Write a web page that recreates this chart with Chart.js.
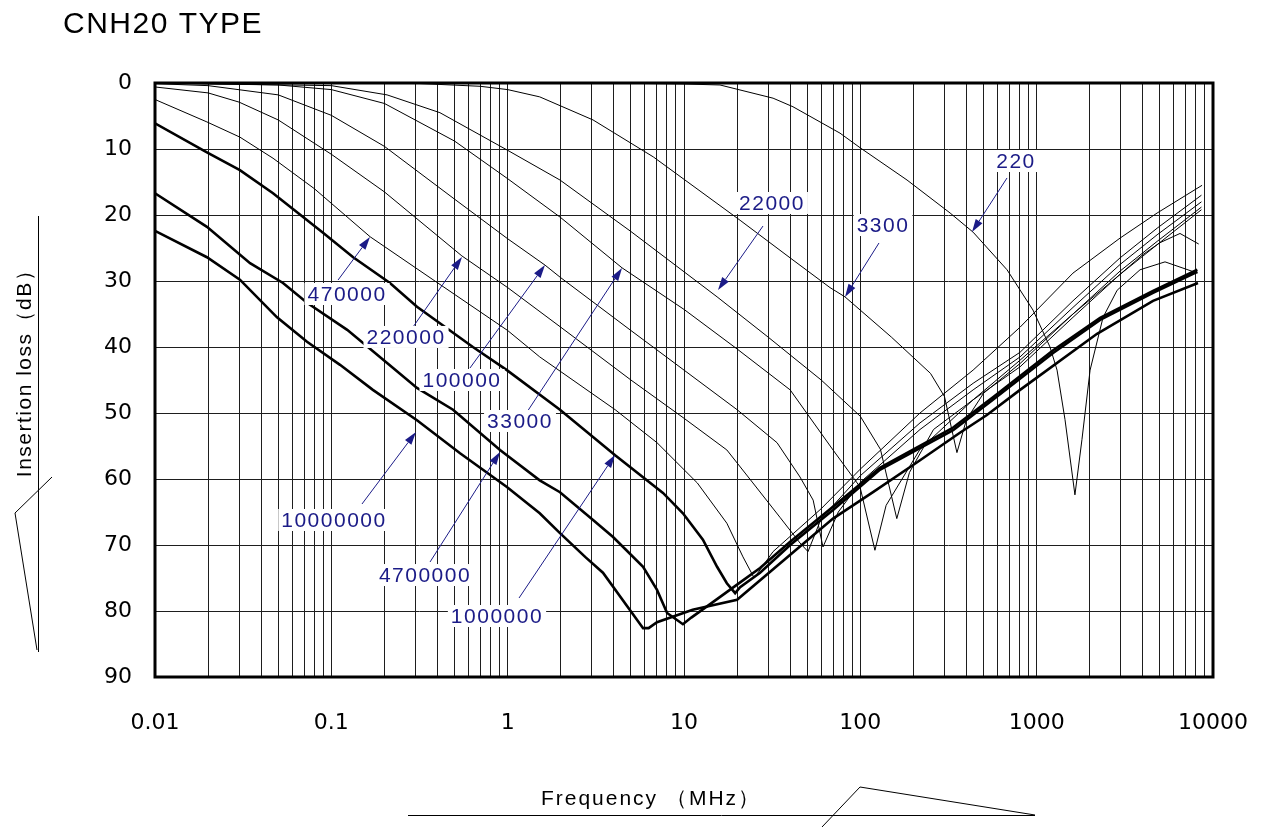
<!DOCTYPE html>
<html>
<head>
<meta charset="utf-8">
<title>CNH20 TYPE</title>
<script src="https://cdn.jsdelivr.net/npm/chart.js@4.4.1/dist/chart.umd.min.js"></script>
<style>
  html, body { margin: 0; padding: 0; background: #fff; }
  #wrap { width: 1263px; height: 827px; }
</style>
</head>
<body>
<div id="wrap"><canvas id="ilChart" width="1263" height="827"></canvas></div>
<script>
// =======================
// DATA  (frequency MHz, insertion loss dB)
// =======================
const xTickLabels = ['0.01', '0.1', '1', '10', '100', '1000', '10000'];
const yTickValues = [0, 10, 20, 30, 40, 50, 60, 70, 80, 90];

const c220 = [[0.01,0],[5,0.05],[10,0.15],[16,0.3],[32,2.3],[41.5,3.6],[76.7,7.6],[99.6,9.8],[184,14.7],[323,19.7],[436,22.6],[679,28.3],[953,34.4],[1190,40],[1305,43.5],[1448,51],[1648,62.4],[1807,54],[2009,43.5],[2380,35.5],[2860,31.4],[3857,28.3],[5345,27.1],[8150,28.8]];
const c3300 = [[0.01,0],[0.3,0.05],[0.7,0.5],[1,1],[1.52,2.1],[3.05,5.6],[6.7,11.2],[20.8,20.8],[40,26.5],[67.3,31],[81.8,32.4],[150,38.5],[250,44],[300,47.5],[353,56],[400,51],[500,47],[805,42.5],[1607,35],[2970,29],[4000,26],[5000,24.2],[6500,22.8],[8300,24.4]];
const c22000 = [[0.01,0],[0.1,0.4],[0.207,1.8],[0.413,4.5],[1,10.2],[1.98,14.7],[5,22.5],[10,28.6],[15.4,32.4],[30,38.5],[60,45],[100,50.5],[130,55.5],[161,66],[190,59],[260,52.5],[436,48],[805,43],[1607,35.5],[2970,29],[4820,24.5],[8600,19.2]];
const c33000 = [[0.01,0],[0.05,0.3],[0.1,1],[0.2,3.1],[0.5,8.8],[1,14.5],[2,20.4],[4.45,28],[10,34.3],[20,40.3],[40,46.5],[70,55.6],[99.6,61.2],[121,70.8],[140,64],[218,55.5],[436,48],[805,42],[1607,35],[2970,28.5],[4820,24],[8600,18.8]];
const c100000 = [[0.01,0.1],[0.02,0.4],[0.05,1.8],[0.1,4.9],[0.2,9.6],[0.5,17.6],[1,23.6],[1.63,27.6],[2,29.5],[5,37.5],[10,43.5],[20,49.5],[33.7,54.5],[45.5,59.7],[54,63.2],[61.4,70.3],[75,65],[100,60.5],[218,52.5],[436,46.5],[805,41.5],[1607,34],[2970,27.5],[4820,23],[8600,18]];
const c220000 = [[0.01,0.6],[0.02,1.5],[0.03,2.9],[0.05,5.6],[0.1,10.8],[0.2,16.5],[0.55,26.2],[1,31],[2,37],[5,45],[10,50.8],[17.5,55.6],[24.6,60.6],[35,65.8],[45.5,69.7],[50.5,71],[60,66],[100,59.5],[218,51.5],[436,45.5],[805,40.8],[1607,33],[2970,26.5],[4820,22],[8600,17]];
const c470000 = [[0.01,2.5],[0.0197,5.9],[0.0303,8.2],[0.0467,11.4],[0.08,16],[0.166,23.3],[0.377,29.8],[1,37.5],[1.52,41.5],[4.07,49.5],[7.03,54.5],[11.9,60.6],[17.5,66.7],[21.6,71.8],[25,75],[32,71],[60,64.5],[100,58.5],[218,50],[436,43.5],[805,37],[1607,28.8],[2970,23.5],[4820,19.7],[8670,15.5]];
const c1000000 = [[0.01,6.1],[0.0197,10.5],[0.0303,13.2],[0.0467,16.7],[0.0897,22.7],[0.133,26.4],[0.215,30.3],[0.306,33.9],[0.635,40],[0.99,43.5],[1.98,49.5],[4.07,56.4],[7.6,62.1],[9.86,65.2],[12.8,69.2],[15.4,73.3],[17.5,75.8],[19.5,77.3],[20.8,76.4],[27,74.2],[40,70],[70,64.7],[129,58.6],[336,52.6],[565,48],[1240,40.9],[2290,35.9],[4570,31.8],[8150,28.6]];
const c4700000 = [[0.01,16.7],[0.0197,21.8],[0.0346,27.3],[0.0532,30.3],[0.0728,33.3],[0.123,37.4],[0.224,43.2],[0.306,46.2],[0.49,49.5],[0.905,55.6],[1.52,60.2],[1.98,62],[3.05,66.2],[3.96,68.8],[5.86,73.3],[7.03,76.8],[8.02,80.3],[9.86,82],[11,81],[14,79],[20,76],[27,73.5],[40,69.5],[70,64.2],[129,58.3],[336,52.2],[565,47.6],[1240,40.5],[2290,35.6],[4570,31.5],[8150,28.3]];
const c10000000 = [[0.01,22.4],[0.0197,26.4],[0.0303,29.8],[0.0492,35.5],[0.0728,39.2],[0.112,42.7],[0.172,46.5],[0.306,51.1],[0.537,56.1],[0.99,61.2],[1.52,65.2],[1.98,68.2],[2.75,71.8],[3.47,74.2],[5.86,82.6],[6.3,82.6],[7.03,81.7],[11.2,79.8],[20,78.3],[70,66],[118,62],[209,57.5],[367,53],[522,50.3],[805,46.5],[2200,38],[4570,33],[8220,30.3]];

const seriesNames = ['220', '3300', '22000', '33000', '100000', '220000', '470000', '1000000', '4700000', '10000000'];
const seriesData = [c220, c3300, c22000, c33000, c100000, c220000, c470000, c1000000, c4700000, c10000000];
const thickNames = ['1000000', '4700000', '10000000'];

// callout labels: label centre, arrow start, arrow tip (all in MHz / dB)
const notes = [
  { text: '470000',   at: [0.1228, 31.97], from: [0.1092, 29.85], to: [0.1656, 23.33] },
  { text: '220000',   at: [0.2652, 38.48], from: [0.2905, 36.97], to: [0.5508, 26.36] },
  { text: '100000',   at: [0.5508, 45.0],  from: [0.6114, 43.18], to: [1.628, 27.58] },
  { text: '33000',    at: [1.175, 51.21],  from: [1.287, 49.85],  to: [4.451, 28.03] },
  { text: '10000000', at: [0.1035, 66.21], from: [0.1492, 63.79], to: [0.302, 52.88] },
  { text: '4700000',  at: [0.3398, 74.55], from: [0.3627, 72.58], to: [0.905, 55.91] },
  { text: '1000000',  at: [0.8699, 80.76], from: [1.16, 78.03],   to: [4.061, 56.36] },
  { text: '22000',    at: [31.55, 18.18],  from: [28.06, 21.67],  to: [15.59, 31.36] },
  { text: '3300',     at: [134.5, 21.52],  from: [127.6, 24.24],  to: [81.86, 32.42] },
  { text: '220',      at: [763.6, 11.82],  from: [679, 14.39],    to: [429.9, 22.58] }
];

// log grid: 1..9 in every decade
const xGrid = [];
for (let e = -2; e <= 3; e++) {
  for (let m = 1; m <= 9; m++) xGrid.push(+(m * Math.pow(10, e)).toPrecision(3));
}
xGrid.push(10000);

const navy = '#1b1b87';
const textFont = '"Liberation Sans", Arial, sans-serif';

// =======================
// DECORATION PLUGIN
// =======================
const decor = {
  id: 'decor',
  afterDatasetsDraw(chart) {
    const { ctx, chartArea: a, scales } = chart;
    const sx = scales.x, sy = scales.y;
    ctx.save();
    ctx.strokeStyle = '#000';
    ctx.lineWidth = 3;
    ctx.strokeRect(a.left, a.top, a.right - a.left, a.bottom - a.top);

    ctx.font = '21px ' + textFont;
    ctx.letterSpacing = '1.5px';
    ctx.textAlign = 'center';
    ctx.textBaseline = 'middle';
    notes.forEach(function (n) {
      const px = sx.getPixelForValue(n.at[0]), py = sy.getPixelForValue(n.at[1]);
      const x0 = sx.getPixelForValue(n.from[0]), y0 = sy.getPixelForValue(n.from[1]);
      const x1 = sx.getPixelForValue(n.to[0]), y1 = sy.getPixelForValue(n.to[1]);
      const ang = Math.atan2(y1 - y0, x1 - x0);
      const c = Math.cos(ang), s = Math.sin(ang);
      const hl = 13, hw = 4;
      ctx.strokeStyle = navy;
      ctx.lineWidth = 1;
      ctx.beginPath();
      ctx.moveTo(x0, y0);
      ctx.lineTo(x1 - hl * c, y1 - hl * s);
      ctx.stroke();
      ctx.fillStyle = navy;
      ctx.beginPath();
      ctx.moveTo(x1, y1);
      ctx.lineTo(x1 - hl * c + hw * s, y1 - hl * s - hw * c);
      ctx.lineTo(x1 - hl * c - hw * s, y1 - hl * s + hw * c);
      ctx.closePath();
      ctx.fill();

      const w = ctx.measureText(n.text).width;
      ctx.fillStyle = '#fff';
      ctx.fillRect(px - w / 2 - 3, py - 11, w + 6, 22);
      ctx.fillStyle = navy;
      ctx.fillText(n.text, px, py + 1);
    });
    ctx.restore();
  },
  afterDraw(chart) {
    const ctx = chart.ctx;
    ctx.save();
    ctx.fillStyle = '#000';
    ctx.letterSpacing = '1.5px';

    // title
    ctx.font = '30px ' + textFont;
    ctx.textAlign = 'left';
    ctx.textBaseline = 'alphabetic';
    ctx.fillText('CNH20 TYPE', 63, 33);

    // axis titles
    ctx.font = '21px ' + textFont;
    ctx.textAlign = 'center';
    ctx.textBaseline = 'middle';
    ctx.save();
    ctx.translate(25, 368);
    ctx.rotate(-Math.PI / 2);
    ctx.fillText('Insertion loss（dB）', 0, 0);
    ctx.restore();
    ctx.letterSpacing = '2px';
    ctx.fillText('Frequency （MHz）', 651, 799);

    // leader lines around the axis titles
    ctx.strokeStyle = '#000';
    ctx.lineWidth = 1;
    ctx.beginPath();
    ctx.moveTo(38.5, 216); ctx.lineTo(38.5, 652);
    ctx.moveTo(52, 477); ctx.lineTo(15, 513); ctx.lineTo(37, 650);
    ctx.moveTo(408, 815.5); ctx.lineTo(1035, 815.5);
    ctx.moveTo(822, 827); ctx.lineTo(860, 787); ctx.lineTo(1035, 815);
    ctx.stroke();
    ctx.restore();
  }
};

// =======================
// CHART
// =======================
const datasets = seriesNames.map(function (name, i) {
  const thick = thickNames.indexOf(name) >= 0;
  return {
    label: name,
    data: seriesData[i].map(function (p) { return { x: p[0], y: p[1] }; }),
    borderColor: '#000',
    borderWidth: thick ? 2.6 : 1,
    pointRadius: 0,
    tension: 0,
    fill: false
  };
});

new Chart(document.getElementById('ilChart'), {
  type: 'line',
  data: { datasets: datasets },
  options: {
    responsive: false,
    devicePixelRatio: 1,
    animation: false,
    layout: { padding: { left: 0, top: 83, right: 50, bottom: 0 } },
    plugins: { legend: { display: false }, tooltip: { enabled: false } },
    scales: {
      x: {
        type: 'logarithmic',
        min: 0.01,
        max: 10000,
        afterBuildTicks: function (scale) {
          scale.ticks = xGrid.map(function (v) { return { value: v }; });
        },
        afterFit: function (scale) {
          scale.height = 150;
          scale.paddingLeft = 0;
          scale.paddingRight = 0;
        },
        border: { display: false },
        grid: { color: '#1e1e1e', lineWidth: 1, drawTicks: false },
        ticks: {
          autoSkip: false,
          maxRotation: 0,
          padding: 33,
          color: '#000',
          font: { family: 'DejaVu Sans', size: 22 },
          callback: function (value) {
            const k = xTickLabels.indexOf(String(+value.toPrecision(3)));
            return k >= 0 ? xTickLabels[k] : '';
          }
        }
      },
      y: {
        type: 'linear',
        reverse: true,
        min: 0,
        max: 90,
        afterBuildTicks: function (scale) {
          scale.ticks = yTickValues.map(function (v) { return { value: v }; });
        },
        afterFit: function (scale) {
          scale.width = 155;
          scale.paddingTop = 0;
          scale.paddingBottom = 0;
        },
        border: { display: false },
        grid: { color: '#1e1e1e', lineWidth: 1, drawTicks: false },
        ticks: {
          padding: 23,
          color: '#000',
          font: { family: 'DejaVu Sans', size: 22 }
        }
      }
    }
  },
  plugins: [decor]
});
</script>
</body>
</html>
